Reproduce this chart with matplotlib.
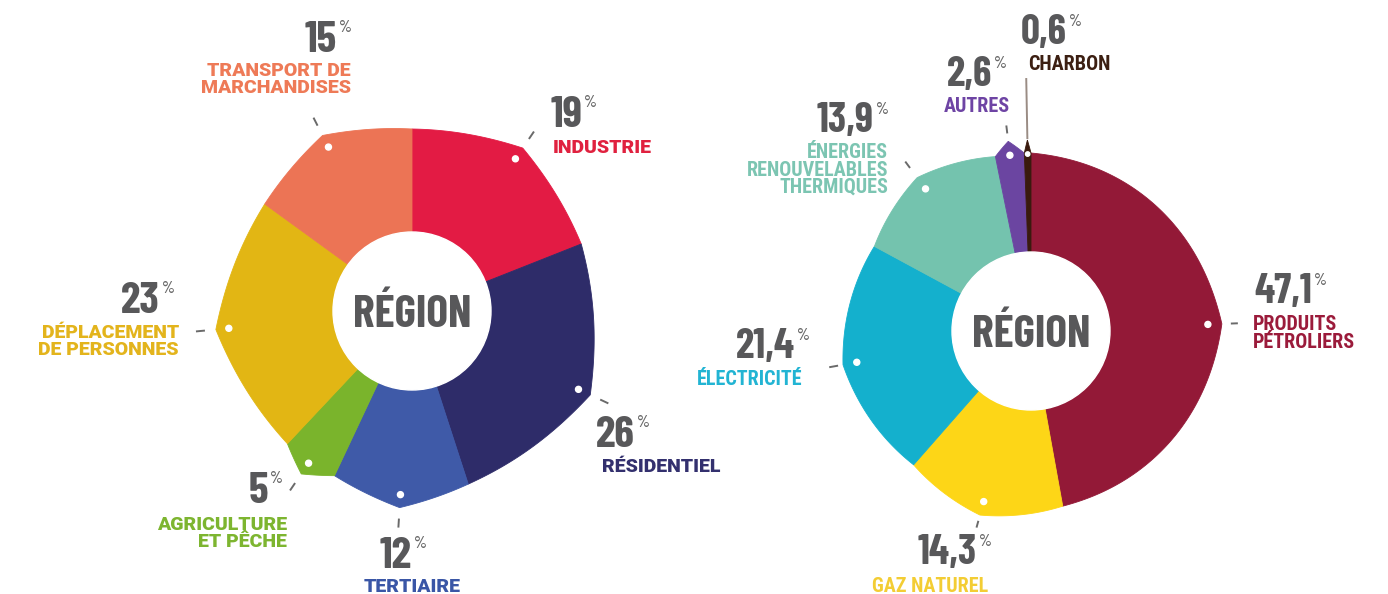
import numpy as np
import matplotlib.pyplot as plt
from matplotlib.patches import Polygon, Circle

# Consommation par secteur (anneau de gauche), sens horaire depuis midi
secteurs = ['INDUSTRIE', 'RÉSIDENTIEL', 'TERTIAIRE', 'AGRICULTURE\nET PÊCHE',
            'DÉPLACEMENT\nDE PERSONNES', 'TRANSPORT DE\nMARCHANDISES']
secteurs_pct = [19, 26, 12, 5, 23, 15]
secteurs_couleurs = ['#E31B44', '#2E2C69', '#3F5AA8', '#7AB42C', '#E2B614', '#EC7455']
secteurs_txt_couleurs = ['#E0213F', '#33306E', '#3A56A6', '#7DB530', '#E3B41C', '#EE7A57']

# Consommation par énergie (anneau de droite)
energies = ['PRODUITS\nPÉTROLIERS', 'GAZ NATUREL', 'ÉLECTRICITÉ',
            'ÉNERGIES\nRENOUVELABLES\nTHERMIQUES', 'AUTRES', 'CHARBON']
energies_pct = [47.1, 14.3, 21.4, 13.9, 2.6, 0.6]
energies_couleurs = ['#931937', '#FDD617', '#14B0CD', '#74C3AE', '#6B45A1', '#3A1A0E']
energies_txt_couleurs = ['#9B1B3B', '#F3CD34', '#22B4D3', '#7CC5B2', '#6E44A4', '#3C1F12']

GRIS = '#58585A'
CHIFFRES = ['Barlow Condensed', 'DejaVu Sans']
LARGE = ['Roboto', 'DejaVu Sans']
ETROIT = ['Roboto Condensed', 'DejaVu Sans']

fig = plt.figure(figsize=(13.88, 5.94), dpi=100)
ax = fig.add_axes([0, 0, 1, 1])
ax.set_xlim(0, 1388)
ax.set_ylim(594, 0)
ax.axis('off')


def point(cx, cy, a, r):
    t = np.radians(a)
    return np.array([cx + r * np.sin(t), cy - r * np.cos(t)])


def contour(cx, cy, a0, a1, am, rb, rv, w, n=80):
    # secteur plein avec une pointe extérieure à l'angle am
    pts = [(cx, cy)]
    for s, e, rs, re in [(a0, am, rb, rv), (am, a1, rv, rb)]:
        A = point(0, 0, s, rs)
        B = point(0, 0, e, re)
        d = B - A
        for a in np.linspace(s, e, n):
            u = point(0, 0, a, 1.0)
            den = u[0] * d[1] - u[1] * d[0]
            r_corde = (A[0] * d[1] - A[1] * d[0]) / den if abs(den) > 1e-9 else rs
            f = (a - s) / (e - s) if e > s else 0.0
            r_pol = rs + (re - rs) * f
            r = (1 - w) * r_corde + w * r_pol
            pts.append((cx + r * u[0], cy + r * u[1]))
    return pts


def anneau(cx, cy, pct, couleurs, rb, rv, rdot, rtrou, w, decal, traits):
    total = sum(pct)
    a0 = 0.0
    for i, v in enumerate(pct):
        a1 = a0 + 360.0 * v / total
        am = (a0 + a1) / 2 + decal[i]
        ax.add_patch(Polygon(contour(cx, cy, a0, a1, am, rb, rv, w), closed=True,
                             facecolor=couleurs[i], edgecolor=couleurs[i], lw=0.6, zorder=2))
        p = point(cx, cy, am, rdot)
        ax.add_patch(Circle(p, 2.2 if v < 1 else 3.0, color='white', zorder=4))
        t0, t1 = point(cx, cy, am, traits[i][0]), point(cx, cy, am, traits[i][1])
        ax.plot([t0[0], t1[0]], [t0[1], t1[1]], color='#6a6a6a' if v >= 1 else '#9a8c84',
                lw=1.4, solid_capstyle='butt', zorder=3)
        a0 = a1
    ax.add_patch(Circle((cx, cy), rtrou, color='white', zorder=5))
    ax.text(cx, cy + 16, 'RÉGION', family=CHIFFRES, fontweight='bold', fontsize=33,
            color=GRIS, ha='center', va='baseline', zorder=6)


def etiquette(nombre, libelle, nx, ny, lx, ly, ha, couleur, famille, poids, taille, pas, nsize):
    ax.text(nx, ny, nombre, family=CHIFFRES, fontweight='bold', fontsize=nsize,
            color=GRIS, ha='right', va='baseline')
    ax.text(nx + 2, ny - nsize * 1.39 * 0.72, '%', family=CHIFFRES, fontweight='medium',
            fontsize=12, color='#6a6a6a', ha='left', va='top')
    for k, ligne in enumerate(libelle.split('\n')):
        ax.text(lx, ly + k * pas, ligne, family=famille, fontweight=poids,
                fontsize=taille, color=couleur, ha=ha, va='baseline')


# anneau de gauche
traits_g = [(208, 217)] * 6
anneau(412, 311, secteurs_pct, secteurs_couleurs, 182, 197, 184, 79, 0.5,
       [0] * 6, traits_g)

pos_g = [  # x/y du nombre (bord droit, ligne de base), x/y du libellé, alignement
    (582, 127, 553, 153, 'left'),
    (635, 447, 602, 472, 'left'),
    (412, 568, 412, 592, 'center'),
    (268, 503, 287, 530, 'right'),
    (160, 313, 179, 338, 'right'),
    (337, 52, 351, 76, 'right'),
]
for lab, v, c, (nx, ny, lx, ly, ha) in zip(secteurs, secteurs_pct, secteurs_txt_couleurs, pos_g):
    etiquette(f'{v:g}', lab, nx, ny, lx, ly, ha, c, LARGE, 'black', 14, 17, 32)

# anneau de droite
traits_d = [(200, 207), (197, 204), (196, 205), (203, 211), (199, 207), (192, 253)]
anneau(1031, 331, energies_pct, energies_couleurs, 178, 191, 177, 79, 0.85,
       [3, 0, 0, 0, 0, 0], traits_d)

pos_d = [
    (1312, 303, 1253, 330, 'left'),
    (977, 564, 930, 592, 'center'),
    (795, 358, 803, 385, 'right'),
    (874, 132, 888, 158, 'right'),
    (992, 86, 1010, 112, 'right'),
    (1067, 44, 1028, 70, 'left'),
]
for lab, v, c, (nx, ny, lx, ly, ha) in zip(energies, energies_pct, energies_txt_couleurs, pos_d):
    etiquette(f'{v:.1f}'.replace('.', ','), lab, nx, ny, lx, ly, ha, c, ETROIT, 'bold', 14.5, 17.5, 30)

fig.savefig('out.png', dpi=100, facecolor='white')
